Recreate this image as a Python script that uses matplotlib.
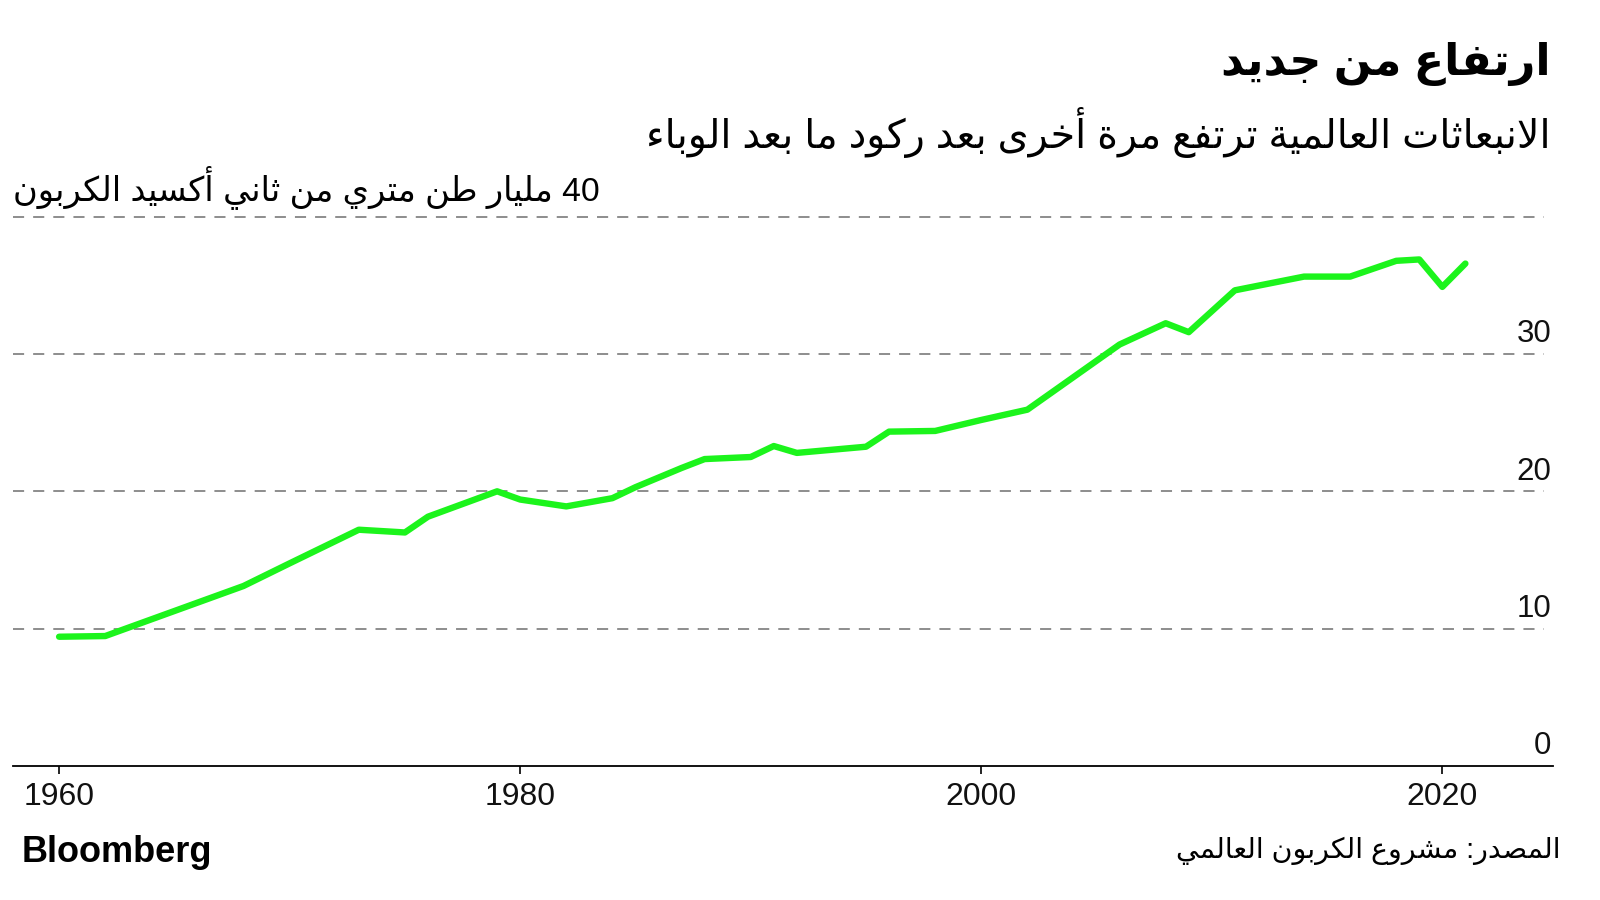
import re
import matplotlib
matplotlib.use("Agg")
import matplotlib.pyplot as plt

# global CO2 emissions, billion metric tons
years = [1960, 1962, 1968, 1970, 1973, 1975, 1976, 1979, 1980, 1982,
         1984, 1985, 1987, 1988, 1990, 1991, 1992, 1995, 1996, 1998,
         2000, 2002, 2006, 2008, 2009, 2011, 2014, 2016, 2018, 2019,
         2020, 2021]
emissions = [9.4, 9.45, 13.1, 14.75, 17.2, 17.0, 18.15, 20.0, 19.4, 18.9,
             19.5, 20.3, 21.7, 22.35, 22.5, 23.3, 22.8, 23.25, 24.35, 24.4,
             25.2, 25.95, 30.7, 32.25, 31.6, 34.65, 35.65, 35.65, 36.8, 36.9,
             34.9, 36.6]

x_ticks = [1960, 1980, 2000, 2020]
y_labels = [0, 10, 20, 30]
grid_levels = [10, 20, 30, 40]

title = "ارتفاع من جديد"
subtitle = "الانبعاثات العالمية ترتفع مرة أخرى بعد ركود ما بعد الوباء"
unit_label = "40 مليار طن متري من ثاني أكسيد الكربون"
source = "المصدر: مشروع الكربون العالمي"

GREEN = "#1cf41c"

# matplotlib has no arabic shaping, so map letters to presentation forms
# (isolated codepoint, number of forms)
AR = {
    0x0621: (0xFE80, 1), 0x0622: (0xFE81, 2), 0x0623: (0xFE83, 2),
    0x0624: (0xFE85, 2), 0x0625: (0xFE87, 2), 0x0626: (0xFE89, 4),
    0x0627: (0xFE8D, 2), 0x0628: (0xFE8F, 4), 0x0629: (0xFE93, 2),
    0x062A: (0xFE95, 4), 0x062B: (0xFE99, 4), 0x062C: (0xFE9D, 4),
    0x062D: (0xFEA1, 4), 0x062E: (0xFEA5, 4), 0x062F: (0xFEA9, 2),
    0x0630: (0xFEAB, 2), 0x0631: (0xFEAD, 2), 0x0632: (0xFEAF, 2),
    0x0633: (0xFEB1, 4), 0x0634: (0xFEB5, 4), 0x0635: (0xFEB9, 4),
    0x0636: (0xFEBD, 4), 0x0637: (0xFEC1, 4), 0x0638: (0xFEC5, 4),
    0x0639: (0xFEC9, 4), 0x063A: (0xFECD, 4), 0x0641: (0xFED1, 4),
    0x0642: (0xFED5, 4), 0x0643: (0xFED9, 4), 0x0644: (0xFEDD, 4),
    0x0645: (0xFEE1, 4), 0x0646: (0xFEE5, 4), 0x0647: (0xFEE9, 4),
    0x0648: (0xFEED, 2), 0x0649: (0xFEEF, 2), 0x064A: (0xFEF1, 4),
}
LAM_ALEF = {0x0622: 0xFEF5, 0x0623: 0xFEF7, 0x0625: 0xFEF9, 0x0627: 0xFEFB}


def shape(s):
    units = []
    i = 0
    while i < len(s):
        c = ord(s[i])
        if c == 0x0644 and i + 1 < len(s) and ord(s[i + 1]) in LAM_ALEF:
            units.append(("la", LAM_ALEF[ord(s[i + 1])]))
            i += 2
        else:
            units.append(("c", c))
            i += 1

    def to_next(u):
        return u[0] == "c" and u[1] in AR and AR[u[1]][1] == 4

    def to_prev(u):
        return u[0] == "la" or (u[1] in AR and AR[u[1]][1] > 1)

    out = []
    for k, u in enumerate(units):
        p = k > 0 and to_next(units[k - 1]) and to_prev(u)
        n = k + 1 < len(units) and to_next(u) and to_prev(units[k + 1])
        if u[0] == "la":
            out.append(chr(u[1] + (1 if p else 0)))
        elif u[1] in AR:
            base, nf = AR[u[1]]
            if nf == 4:
                off = 3 if (p and n) else 1 if p else 2 if n else 0
            elif nf == 2:
                off = 1 if p else 0
            else:
                off = 0
            out.append(chr(base + off))
        else:
            out.append(chr(u[1]))
    vis = "".join(out)[::-1]
    return re.sub(r"[0-9]+", lambda m: m.group(0)[::-1], vis)


AR_FONT = ["Liberation Sans", "DejaVu Sans"]
NUM_FONT = "Liberation Sans"
plt.rcParams["lines.scale_dashes"] = False

fig = plt.figure(figsize=(16, 9), dpi=100)
ax = fig.add_axes([13 / 1600, 1 - 765.7 / 900, 1540 / 1600, 562.5 / 900])

ax.plot(years, emissions, color=GREEN, lw=4.6,
        solid_capstyle="round", solid_joinstyle="round", zorder=3)

for v in grid_levels:
    ax.axhline(v, xmin=0, xmax=0.994, color="#7a7a7a", lw=1.2,
               dashes=(8, 6.5), zorder=1)

for v in y_labels:
    ax.text(0.999, v + 0.85, str(v), transform=ax.get_yaxis_transform(),
            ha="right", va="baseline", fontsize=22.5, family=NUM_FONT,
            color="#111111")

ax.set_xlim(1958, 2024.8)
ax.set_ylim(0, 41)
for side in ["left", "right", "top"]:
    ax.spines[side].set_visible(False)
ax.spines["bottom"].set_linewidth(1.3)
ax.set_yticks([])
ax.set_xticks(x_ticks)
ax.set_xticklabels([str(x) for x in x_ticks], family=NUM_FONT, fontsize=23,
                   color="#111111")
ax.tick_params(axis="x", length=6, width=1.2, pad=6)

fig.text(1551 / 1600, 1 - 64 / 900, shape(title), ha="right", va="center",
         fontsize=32, fontweight="bold", family=AR_FONT)
fig.text(1551 / 1600, 1 - 133 / 900, shape(subtitle), ha="right",
         va="center", fontsize=28.5, family=AR_FONT)
fig.text(600 / 1600, 1 - 187 / 900, shape(unit_label), ha="right",
         va="center", fontsize=24.3, family=AR_FONT)
fig.text(1561 / 1600, 1 - 851 / 900, shape(source), ha="right",
         va="center", fontsize=20.5, family=AR_FONT)
fig.text(22 / 1600, 1 - 853 / 900, "Bloomberg", ha="left", va="center",
         fontsize=26, fontweight="bold", family=NUM_FONT)

fig.savefig("out.png", dpi=100)
